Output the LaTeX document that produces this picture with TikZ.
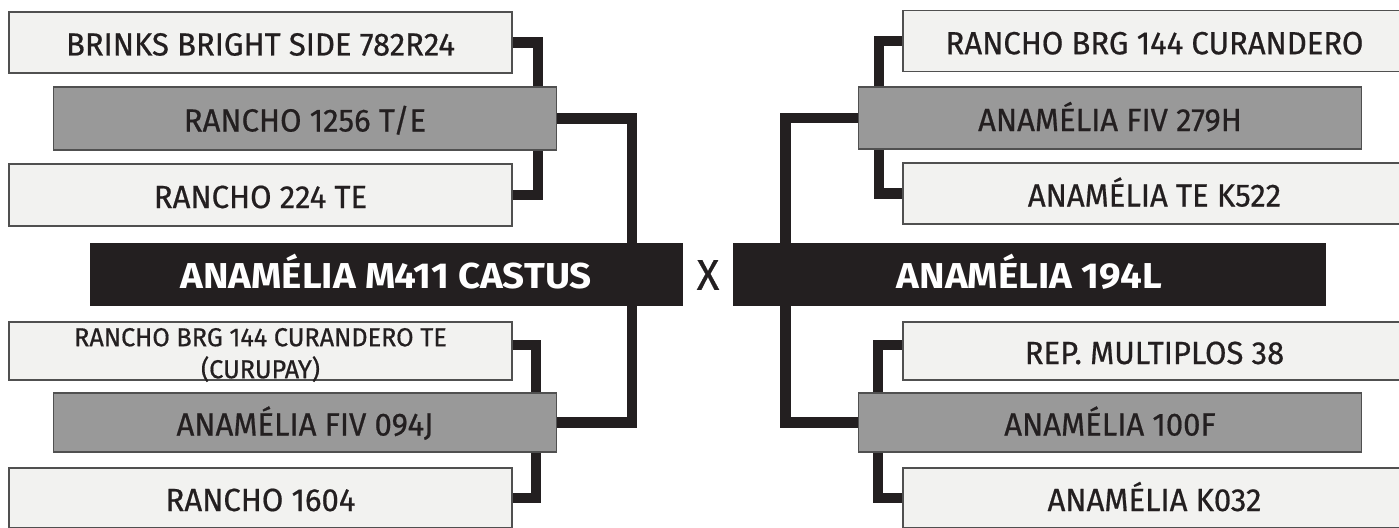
\documentclass[tikz,border=0pt]{standalone}
\usepackage{fontspec}
\setmainfont{Fira Sans}[FakeStretch=0.97, FakeBold=0.6]
\newfontfamily\heavyfont{Fira Sans}[FakeStretch=1.07]
\usetikzlibrary{backgrounds}
\definecolor{ink}{HTML}{231F20}
\definecolor{paleC}{HTML}{F2F2F0}
\definecolor{midC}{HTML}{999999}
\definecolor{edgeC}{HTML}{505050}
\tikzset{
  boxbase/.style={rectangle, inner sep=0pt, minimum width=503pt, line width=1.4pt,
    draw=edgeC, text=ink, font=\fontsize{32}{38}\selectfont, text height=26pt, text depth=0pt},
  pale/.style={boxbase, fill=paleC},
  mid/.style={boxbase, fill=midC},
  bigbox/.style={rectangle, inner sep=0pt, minimum width=591.5pt, minimum height=62pt,
    fill=ink, draw=ink, line width=1pt, text=white,
    font=\fontsize{36}{42}\heavyfont\bfseries, text height=28pt, text depth=0pt},
  link/.style={draw=ink, line width=10.5pt, line join=miter},
}
\begin{document}
\begin{tikzpicture}[x=1pt,y=-1pt]
\useasboundingbox (0,0) rectangle (1399,527);
\clip (0,0) rectangle (1399,527);
% left side
\node[pale, minimum height=61pt] (L1) at (260.5,42.5) {BRINKS BRIGHT SIDE 782R24};
\node[mid,  minimum height=63pt] (L2) at (305,118.5) {RANCHO 1256 T/E};
\node[pale, minimum height=62pt] (L3) at (260.5,195) {RANCHO 224 TE};
\node[bigbox] (LM) at (386.25,274) {ANAMÉLIA M411 CASTUS};
\node[pale, minimum height=58pt] (L4) at (260.5,351) {};
\node[text=ink, align=center, inner sep=0pt, font=\fontsize{26}{32}\selectfont] (L4t) at (260.5,355)
  {RANCHO BRG 144 CURANDERO TE\\(CURUPAY)};
\node[mid,  minimum height=59pt] (L5) at (305,422.5) {ANAMÉLIA FIV 094J};
\node[pale, minimum height=60pt] (L6) at (260.5,498) {RANCHO 1604};
% cross
\node[text=ink, inner sep=0pt, font=\fontsize{43}{48}\selectfont] (X) at (708,275) {X};
% right side
\node[pale, minimum height=61pt] (R1) at (1154.5,41.25) {RANCHO BRG 144 CURANDERO};
\node[mid,  minimum height=62pt] (R2) at (1110,118) {ANAMÉLIA FIV 279H};
\node[pale, minimum height=61pt] (R3) at (1154.5,193.5) {ANAMÉLIA TE K522};
\node[bigbox] (RM) at (1029.25,274) {ANAMÉLIA 194L};
\node[pale, minimum height=58pt] (R4) at (1154.5,351) {REP. MULTIPLOS 38};
\node[mid,  minimum height=59pt] (R5) at (1110,422.5) {ANAMÉLIA 100F};
\node[pale, minimum height=60pt] (R6) at (1154.5,498) {ANAMÉLIA K032};
% bracket columns
\coordinate (bL1) at (538,0);
\coordinate (bL2) at (632,0);
\coordinate (bL3) at (536,0);
\coordinate (bR1) at (879,0);
\coordinate (bR2) at (785.5,0);
\coordinate (bR3) at (878,0);
\begin{pgfonlayer}{background}
\draw[link] (L1.east) -- (L1.east -| bL1) -- (L3.east -| bL1) -- (L3.east);
\draw[link] (L2.east) -- (L2.east -| bL2) -- (L5.east -| bL2) -- (L5.east);
\draw[link] ([yshift=6pt]L4.east) -- ([yshift=6pt]L4.east -| bL3) -- (L6.east -| bL3) -- (L6.east);
\draw[link] (R1.west) -- (R1.west -| bR1) -- (R3.west -| bR1) -- (R3.west);
\draw[link] (R2.west) -- (R2.west -| bR2) -- (R5.west -| bR2) -- (R5.west);
\draw[link] ([yshift=6pt]R4.west) -- ([yshift=6pt]R4.west -| bR3) -- (R6.west -| bR3) -- (R6.west);
\end{pgfonlayer}
\end{tikzpicture}
\end{document}
